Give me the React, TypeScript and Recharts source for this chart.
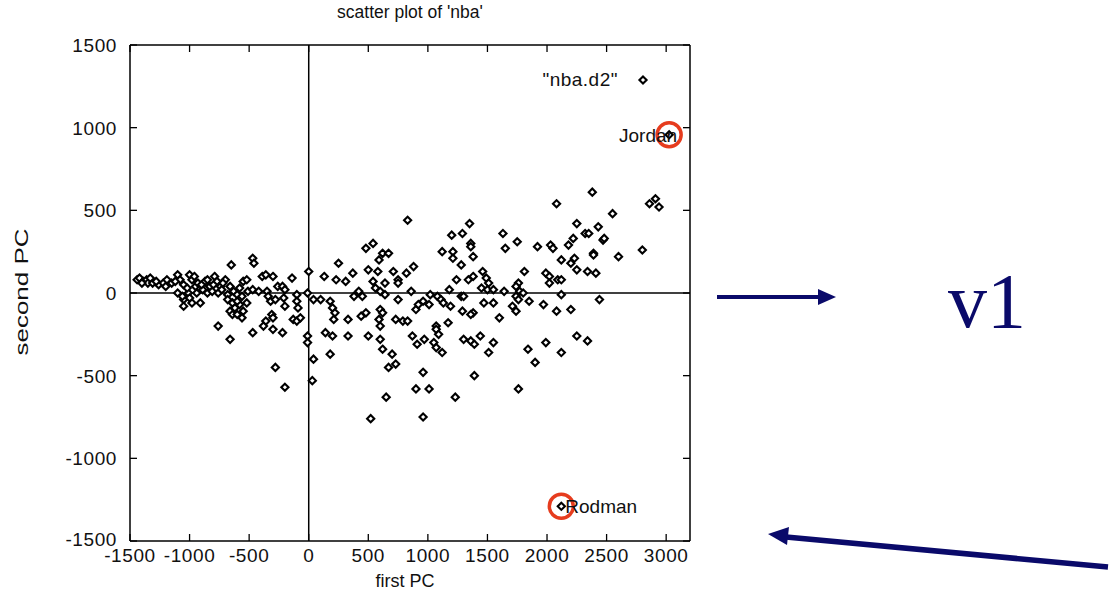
import { ReferenceDot, ReferenceLine, Scatter, ScatterChart, XAxis, YAxis } from 'recharts';

const xTicks = [-1500, -1000, -500, 0, 500, 1000, 1500, 2000, 2500, 3000];
const yTicks = [-1500, -1000, -500, 0, 500, 1000, 1500];

// [first PC, second PC]
const nbaScores: [number, number][] = [
  // left cluster
  [-1440, 80], [-1420, 90], [-1390, 70], [-1360, 80], [-1350, 60], [-1310, 60], [-1260, 50], [-1220, 60],
  [-1190, 80], [-1150, 60], [-1100, 110], [-1080, 80], [-1050, 50], [-1100, 0], [-1050, -40], [-1050, -80],
  [-1000, 110], [-980, 80], [-950, 40], [-1010, 0], [-980, -60], [-930, 60], [-890, 20], [-870, 70],
  [-850, 0], [-910, -60], [-830, 40], [-810, 10], [-790, 100], [-770, 70], [-740, 40], [-760, 0],
  [-730, 20], [-700, 80], [-680, -10], [-660, 40], [-630, 10], [-600, -10], [-680, -40], [-660, -110],
  [-640, -130], [-620, -90], [-580, -70], [-550, -110], [-520, -60], [-600, -130], [-560, -150], [-550, 70],
  [-520, 80], [-510, 10], [-470, 20], [-420, 10], [-470, 210], [-460, 180], [-650, 170], [-390, 100],
  [-360, 110], [-350, 10], [-300, 100], [-340, -20], [-320, -50], [-280, -40], [-260, 40], [-220, 40],
  [-200, 20], [-210, -30], [-200, -80], [-140, 90], [-100, -10], [-100, -50], [-90, -90], [-310, -130],
  [-300, -150], [-360, -170], [-380, -200], [-130, -160], [-100, -170], [-70, -150], [-300, -220], [-220, -240],
  [-760, -200], [-470, -240], [-660, -280], [-280, -450], [-200, -570],
  [-1400, 60], [-1330, 90], [-1280, 70], [-1200, 40], [-1120, 70], [-1020, 30], [-960, 100], [-900, 50],
  [-850, 80], [-800, 50], [-720, 60], [-1060, -20], [-1000, -30], [-940, 0], [-580, 30], [-560, -20],
  [-640, -60], [-600, -50],
  // middle
  [830, 440], [480, 270], [540, 300], [620, 240], [670, 240], [590, 200], [250, 180], [0, 130],
  [130, 100], [230, 80], [310, 70], [370, 120], [500, 140], [580, 130], [540, 70], [640, 60],
  [710, 130], [750, 80], [750, 60], [820, 120], [880, 160], [-10, 0], [380, -20], [420, 10],
  [450, -20], [560, 30], [600, 10], [640, -10], [750, -40], [860, 10], [40, -40], [100, -40],
  [180, -50], [200, -90], [220, -120], [210, -160], [330, -160], [440, -140], [480, -120], [600, -100],
  [620, -120], [590, -160], [600, -200], [730, -160], [790, -170], [830, -170], [900, -100], [920, -70],
  [140, -240], [200, -260], [330, -260], [500, -260], [600, -280], [-10, -260], [-10, -300], [870, -260],
  [910, -310], [180, -370], [40, -400], [620, -340], [700, -370], [670, -450], [730, -430], [30, -530],
  [900, -580], [650, -630], [520, -760],
  // right of 1000
  [2080, 540], [1350, 420], [1200, 350], [1290, 360], [1630, 360], [1750, 310], [1360, 300], [1360, 280],
  [1650, 270], [1920, 280], [2030, 290], [2050, 270], [1120, 250], [1210, 250], [1210, 210], [1380, 220],
  [1280, 170], [1460, 130], [1810, 130], [1990, 120], [2020, 100], [2090, 80], [1380, 100], [1340, 80],
  [1240, 80], [1490, 90], [1510, 60], [1760, 60], [1740, 40], [2020, 60], [1180, 20], [1450, 30],
  [1500, 20], [1550, 20], [1640, 10], [1770, 10], [1800, 0], [1020, -10], [1280, -20], [1300, -20],
  [1080, -20], [1110, -40], [960, -50], [1010, -70], [1190, -80], [1130, -60], [1470, -60], [1550, -60],
  [1740, -20], [1760, -40], [1850, -50], [1970, -70], [1710, -80], [1740, -110], [2080, -110], [1290, -110],
  [1380, -120], [1360, -130], [1600, -150], [1170, -180], [1070, -200], [1070, -220], [1090, -250], [970, -280],
  [1050, -300], [1070, -330], [1300, -280], [1360, -290], [1390, -310], [1440, -260], [1550, -300], [1510, -360],
  [1840, -340], [1990, -300], [1120, -360], [1900, -420], [960, -480], [1390, -500], [1010, -580], [1230, -630],
  [1760, -580], [960, -750],
  [2380, 610], [2550, 480], [2860, 540], [2910, 570], [2940, 520], [2250, 420], [2430, 400], [2320, 360],
  [2350, 360], [2220, 330], [2180, 290], [2470, 320], [2480, 330], [2800, 260], [2390, 240], [2390, 230],
  [2600, 220], [2230, 210], [2200, 180], [2120, 200], [2250, 140], [2340, 130], [2410, 120], [2120, 80],
  [2120, -10], [2440, -40], [2200, -100], [2250, -260], [2340, -290], [2120, -360],
];

const players = ['Jordan', 'Rodman'];
const playerScores: [number, number][] = [[3025, 957], [2120, -1290]];

const data = [...nbaScores, ...playerScores].map(([x, y]) => ({ x, y }));
// keeps the mirrored top/right axes bound to a series
const frameData = [{ x: -1500, y: -1500 }];

const FONT = '"Liberation Sans", Arial, sans-serif';
const NAVY = '#0a0a6a';
const RED = '#e63c1e';
const TICK = 7;
const X_GAP = 21;
const Y_GAP = 13;

const diamond = (cx: number, cy: number, r = 3.6) =>
  `M${cx},${cy - r}L${cx + r},${cy}L${cx},${cy + r}L${cx - r},${cy}Z`;

const PointMark = (props: any) => {
  const { cx, cy } = props;
  if (cx == null || cy == null) return null;
  return <path d={diamond(cx, cy)} fill="#fff" stroke="#000" strokeWidth={2.1} />;
};

const NoMark = () => null;

const BottomTick = ({ x, y, payload }: any) => (
  <g>
    <line x1={x} x2={x} y1={y - X_GAP} y2={y - X_GAP - TICK} stroke="#000" strokeWidth={1.3} />
    <text x={x} y={y} textAnchor="middle" fontFamily={FONT} fontSize={19} letterSpacing={0.6} fill="#111">
      {payload.value}
    </text>
  </g>
);

const LeftTick = ({ x, y, payload }: any) => (
  <g>
    <line x1={x + Y_GAP} x2={x + Y_GAP + TICK} y1={y} y2={y} stroke="#000" strokeWidth={1.3} />
    <text
      x={x}
      y={payload.value === -1500 ? y - 2 : y}
      dy="0.36em"
      textAnchor="end"
      fontFamily={FONT}
      fontSize={19}
      letterSpacing={0.6}
      fill="#111"
    >
      {payload.value}
    </text>
  </g>
);

const TopTick = ({ x, y }: any) => (
  <line x1={x} x2={x} y1={y} y2={y + TICK} stroke="#000" strokeWidth={1.3} />
);

const RightTick = ({ x, y }: any) => (
  <line x1={x} x2={x - TICK} y1={y} y2={y} stroke="#000" strokeWidth={1.3} />
);

const nameLabel = (name: string, side: 'left' | 'right') => (p: any) => {
  const vb = p.viewBox || {};
  const cx = vb.x + vb.width / 2;
  const cy = vb.y + vb.height / 2;
  return (
    <text
      x={side === 'left' ? cx + 8 : cx + 4}
      y={cy}
      dy="0.36em"
      textAnchor={side === 'left' ? 'end' : 'start'}
      fontFamily={FONT}
      fontSize={19}
      fill="#111"
    >
      {name}
    </text>
  );
};

export default function App() {
  return (
    <div style={{ position: 'absolute', left: 0, top: 0, width: 1110, height: 605, background: '#fff' }}>
      <ScatterChart width={1110} height={605} margin={{ top: 44, right: 419, bottom: 14, left: 60 }}>
        <XAxis
          dataKey="x"
          type="number"
          domain={[-1500, 3200]}
          ticks={xTicks}
          allowDataOverflow
          height={50}
          tickSize={0}
          tickLine={false}
          tickMargin={X_GAP}
          tick={<BottomTick />}
          axisLine={{ stroke: '#000', strokeWidth: 1.5 }}
        />
        <XAxis
          xAxisId="top"
          dataKey="x"
          orientation="top"
          type="number"
          domain={[-1500, 3200]}
          ticks={xTicks}
          allowDataOverflow
          height={1}
          tickSize={0}
          tickLine={false}
          tickMargin={0}
          tick={<TopTick />}
          axisLine={{ stroke: '#000', strokeWidth: 1.5 }}
        />
        <YAxis
          dataKey="y"
          type="number"
          domain={[-1500, 1500]}
          ticks={yTicks}
          allowDataOverflow
          width={70}
          tickSize={0}
          tickLine={false}
          tickMargin={Y_GAP}
          tick={<LeftTick />}
          axisLine={{ stroke: '#000', strokeWidth: 1.5 }}
        />
        <YAxis
          yAxisId="right"
          dataKey="y"
          orientation="right"
          type="number"
          domain={[-1500, 1500]}
          ticks={yTicks}
          allowDataOverflow
          width={1}
          tickSize={0}
          tickLine={false}
          tickMargin={0}
          tick={<RightTick />}
          axisLine={{ stroke: '#000', strokeWidth: 1.5 }}
        />
        <ReferenceLine x={0} stroke="#000" strokeWidth={1.5} />
        <ReferenceLine y={0} stroke="#000" strokeWidth={1.5} />
        <Scatter
          data={frameData}
          xAxisId="top"
          yAxisId="right"
          shape={<NoMark />}
          isAnimationActive={false}
        />
        <Scatter data={data} shape={<PointMark />} isAnimationActive={false} />
        <ReferenceDot
          x={playerScores[0][0]}
          y={playerScores[0][1]}
          r={12}
          fill="none"
          stroke={RED}
          strokeWidth={3.5}
          label={{ content: nameLabel(players[0], 'left') }}
        />
        <ReferenceDot
          x={playerScores[1][0]}
          y={playerScores[1][1]}
          r={12}
          fill="none"
          stroke={RED}
          strokeWidth={3.5}
          label={{ content: nameLabel(players[1], 'right') }}
        />
      </ScatterChart>

      <svg width={1110} height={605} style={{ position: 'absolute', left: 0, top: 0, pointerEvents: 'none' }}>
        <text x={410} y={18} textAnchor="middle" fontFamily={FONT} fontSize={17.5} fill="#111">
          scatter plot of 'nba'
        </text>
        <text x={618} y={86} textAnchor="end" fontFamily={FONT} fontSize={19} letterSpacing={0.5} fill="#111">
          "nba.d2"
        </text>
        <path d={diamond(643, 80)} fill="#fff" stroke="#000" strokeWidth={2.1} />
        <text
          x={28}
          y={292}
          transform="rotate(-90 28 292)"
          textAnchor="middle"
          fontFamily={FONT}
          fontSize={18}
          textLength={127}
          lengthAdjust="spacingAndGlyphs"
          fill="#111"
        >
          second PC
        </text>
        <text x={405} y={587} textAnchor="middle" fontFamily={FONT} fontSize={18} fill="#111">
          first PC
        </text>

        <line x1={717} y1={297} x2={820} y2={297} stroke={NAVY} strokeWidth={4} />
        <polygon points="818,289 836,297 818,305" fill={NAVY} />
        <text x={948} y={327} fontFamily='"Liberation Serif", "Times New Roman", serif' fontSize={78} fill={NAVY}>
          v1
        </text>
        <line x1={1108} y1={567} x2={786} y2={537} stroke={NAVY} strokeWidth={5.5} />
        <polygon points="768,534 789,527 787,545" fill={NAVY} />
      </svg>
    </div>
  );
}
